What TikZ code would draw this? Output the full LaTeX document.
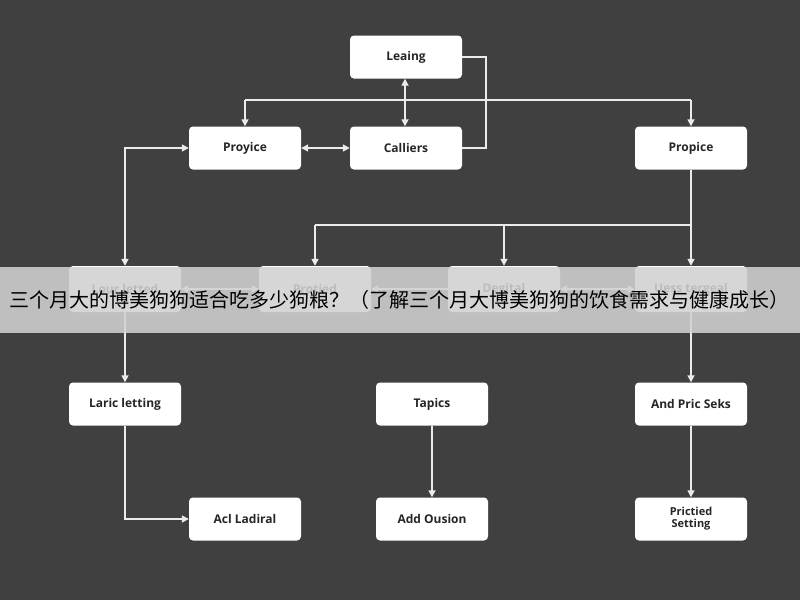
\documentclass[tikz,border=0pt]{standalone}
\usepackage{fontspec}
\setmainfont{Open Sans}
\newfontfamily\cjk{Noto Sans CJK SC}
\usetikzlibrary{arrows.meta}
\definecolor{bg}{RGB}{64,64,64}
\begin{document}
\begin{tikzpicture}[x=1pt,y=-1pt,
  box/.style={draw=none,fill=white,rounded corners=4pt,minimum width=112pt,minimum height=43pt,font=\fontsize{12}{13}\selectfont\bfseries,text=black!85,align=center},
  ln/.style={draw=white!92!black,line width=1.6pt},
  ar/.style={ln,-{Triangle[width=7pt,length=7pt]}},
  dar/.style={ln,{Triangle[width=7pt,length=7pt]}-{Triangle[width=7pt,length=7pt]}}]
\fill[bg] (0,0) rectangle (800,600);
\useasboundingbox (0,0) rectangle (800,600);
\node[box] (lea) at (406,57) {Leaing};
\node[box] (proy) at (245,148) {Proyice};
\node[box] (cal) at (406,148) {Calliers};
\node[box] (prop) at (691,148) {Propice};
\node[box,minimum height=46pt] (lour) at (125,289) {Lour letted};
\node[box,minimum height=46pt] (prot) at (315,289) {Protied};
\node[box,minimum height=46pt] (deg) at (504,289) {Degital};
\node[box,minimum height=46pt] (uess) at (691,289) {Uess tergeal};
\node[box] (lar) at (125,404) {Laric letting};
\node[box] (tap) at (432,404) {Tapics};
\node[box] (and) at (691,404) {And Pric Seks};
\node[box] (acl) at (245,519) {Acl Ladiral};
\node[box] (add) at (432,519) {Add Ousion};
\node[box,font=\fontsize{11}{12}\selectfont\bfseries] (pri) at (691,519) {Prictied\\Setting};
\coordinate (t1) at (245,100); \coordinate (t2) at (691,100);
\draw[dar] (lea.south -| 405,0) -- (cal.north -| 405,0);
\draw[ln] (t1) -- (t2);
\draw[ar] (t1) -- (proy.north);
\draw[ar] (t2) -- (prop.north);
\draw[ln] (lea.east) -| (486,148) -- (cal.east);
\draw[dar] (proy.east) -- (cal.west);
\draw[dar] (proy.west) -| (lour.north);
\coordinate (b1) at (691,225);
\draw[ln] (prop.south) -- (b1);
\draw[ln] (b1) -- (315,225);
\draw[ar] (315,225) -- (prot.north);
\draw[ar] (504,225) -- (deg.north);
\draw[ar] (b1) -- (uess.north);
\draw[dar] (lour.east) -- (prot.west);
\draw[ar] (deg.west) -- (prot.east);
\draw[dar] (deg.east) -- (uess.west);
\draw[ar] (lour.south) -- (lar.north);
\draw[ar] (uess.south) -- (and.north);
\draw[ar] (lar.south) |- (acl.west);
\draw[ar] (tap.south) -- (add.north);
\draw[ar] (and.south) -- (pri.north);
\fill[white!82!black,opacity=0.88] (0,267) rectangle (800,333);
\node[font=\cjk\fontsize{20}{21}\selectfont,text=black,anchor=west,inner sep=0pt] (ttl) at (9,300) {三个月大的博美狗狗适合吃多少狗粮？（了解三个月大博美狗狗的饮食需求与健康成长）};
\end{tikzpicture}
\end{document}
